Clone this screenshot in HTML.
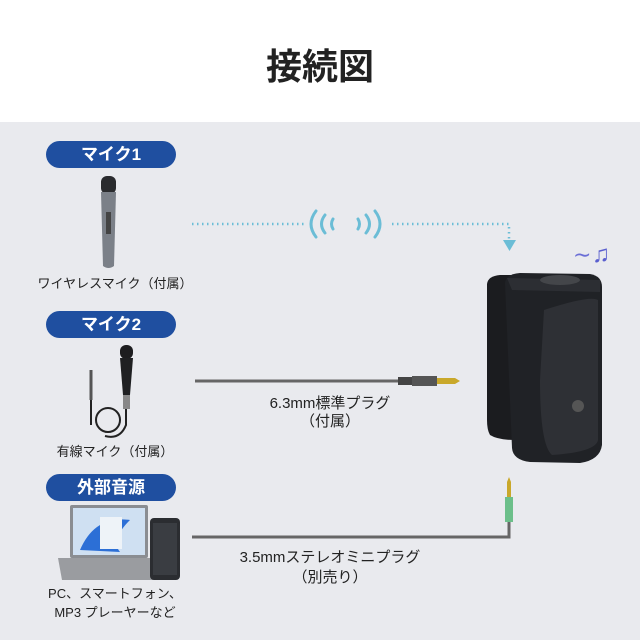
<!DOCTYPE html>
<html><head><meta charset="utf-8"><style>
body{margin:0;width:640px;height:640px;overflow:hidden;font-family:"Liberation Sans","Noto Sans CJK JP",sans-serif;background:#e9eaee;position:relative}
.hd{position:absolute;left:0;top:0;width:640px;height:122px;background:#fff}
.t{position:absolute;color:#222;white-space:nowrap}
.pill{position:absolute;left:46px;width:130px;height:27px;border-radius:14px;background:#1f4fa0;color:#fff;font-weight:bold;font-size:17px;text-align:center;line-height:27px}
</style></head><body>
<div class="hd"></div>
<div class="t" style="left:0;width:640px;top:38px;text-align:center;font-size:36px;font-weight:bold;color:#222">接続図</div>
<div class="pill" style="top:141px">マイク1</div>
<div class="pill" style="top:311px">マイク2</div>
<div class="pill" style="top:474px">外部音源</div>
<div class="t" style="left:30px;width:170px;text-align:center;top:273px;font-size:13px">ワイヤレスマイク（付属）</div>
<div class="t" style="left:30px;width:170px;text-align:center;top:441px;font-size:13px">有線マイク（付属）</div>
<div class="t" style="left:30px;width:170px;text-align:center;top:584px;font-size:13px;line-height:19px">PC、スマートフォン、<br>MP3 プレーヤーなど</div>
<div class="t" style="left:230px;width:200px;text-align:center;top:395px;font-size:15px;line-height:18px">6.3mm標準プラグ<br>（付属）</div>
<div class="t" style="left:230px;width:200px;text-align:center;top:548px;font-size:15px;line-height:20px">3.5mmステレオミニプラグ<br>（別売り）</div>
<svg width="640" height="640" style="position:absolute;left:0;top:0">
<g stroke="#6bbdd6" fill="none" stroke-width="2.5" stroke-dasharray="1.5 3.5">
<path d="M192 224H305"/><path d="M392 224H509V242"/></g>
<path d="M503 240H516L509.5 251Z" fill="#6bbdd6"/>
<g stroke="#6bbdd6" fill="none" stroke-width="3" stroke-linecap="round">
<path d="M316 211Q306 224 316 237"/><path d="M325 215Q318 224 325 233"/><path d="M333 219Q330 224 333 229"/>
<path d="M358 219Q361 224 358 229"/><path d="M366 215Q373 224 366 233"/><path d="M375 211Q385 224 375 237"/></g>
<text x="573" y="262" font-size="22" fill="#6b6fd6">∼</text><text x="592" y="262" font-size="24" fill="#5a5fcf">♫</text>
<!-- mic1 -->
<rect x="101" y="176" width="15" height="18" rx="6" fill="#2a2b2e"/>
<path d="M101 192H116L114 266Q108.5 270 103 266Z" fill="#7b8088"/>
<rect x="106" y="212" width="5" height="22" fill="#444"/>
<!-- mic2 -->
<rect x="120" y="345" width="13" height="14" rx="6" fill="#1d1d1f"/>
<path d="M120 358H133L130 395H123Z" fill="#1f2022"/>
<rect x="123" y="395" width="7" height="14" fill="#888"/>
<path d="M126 409V425Q120 440 105 436" stroke="#222" fill="none" stroke-width="2"/>
<circle cx="108" cy="420" r="12" stroke="#222" fill="none" stroke-width="2"/>
<path d="M91 370V400" stroke="#555" stroke-width="3"/><path d="M91 400V425" stroke="#222" stroke-width="2"/>
<!-- laptop -->
<rect x="70" y="505" width="78" height="53" rx="2" fill="#8a8d92"/>
<rect x="73" y="508" width="72" height="47" fill="#cfe0f2"/>
<path d="M80 550Q95 515 130 520Q110 540 120 552Z" fill="#2c6fd6"/>
<rect x="100" y="517" width="22" height="32" fill="#eef3f8"/>
<path d="M58 558H160L155 580H62Z" fill="#9a9ca0"/>
<rect x="150" y="518" width="30" height="62" rx="4" fill="#2b2d31"/>
<rect x="153" y="523" width="24" height="52" fill="#3a3d42"/>
<!-- 6.3 cable -->
<path d="M195 381H398" stroke="#666" stroke-width="3"/>
<rect x="398" y="377" width="14" height="8" fill="#444"/>
<path d="M412 376H437V386H412Z" fill="#555"/>
<path d="M437 378H455L460 381L455 384H437Z" fill="#c9a82a"/>
<!-- 3.5 cable -->
<path d="M192 537H509V520" stroke="#666" stroke-width="3" fill="none"/>
<rect x="505" y="497" width="8" height="25" fill="#6cbf8a"/>
<path d="M507 497V482L509 477L511 482V497Z" fill="#c9a82a"/>
<!-- speaker -->
<path d="M487 284Q488 276 500 275L515 275V440Q498 440 490 435Q487 430 487 420Z" fill="#1b1c1f"/>
<path d="M505 283Q506 274 520 273L590 274Q602 276 602 287V445Q600 460 580 463L530 462Q513 460 512 448Z" fill="#202226"/>
<path d="M507 278L600 280L600 292L512 290Z" fill="#2c2e33"/>
<path d="M544 310Q590 295 598 300V440Q596 452 552 455Q540 445 540 380Z" fill="#2e3035"/>
<ellipse cx="560" cy="280" rx="20" ry="5" fill="#44464a"/>
<circle cx="578" cy="406" r="6" fill="#555"/>
</svg>
</body></html>
